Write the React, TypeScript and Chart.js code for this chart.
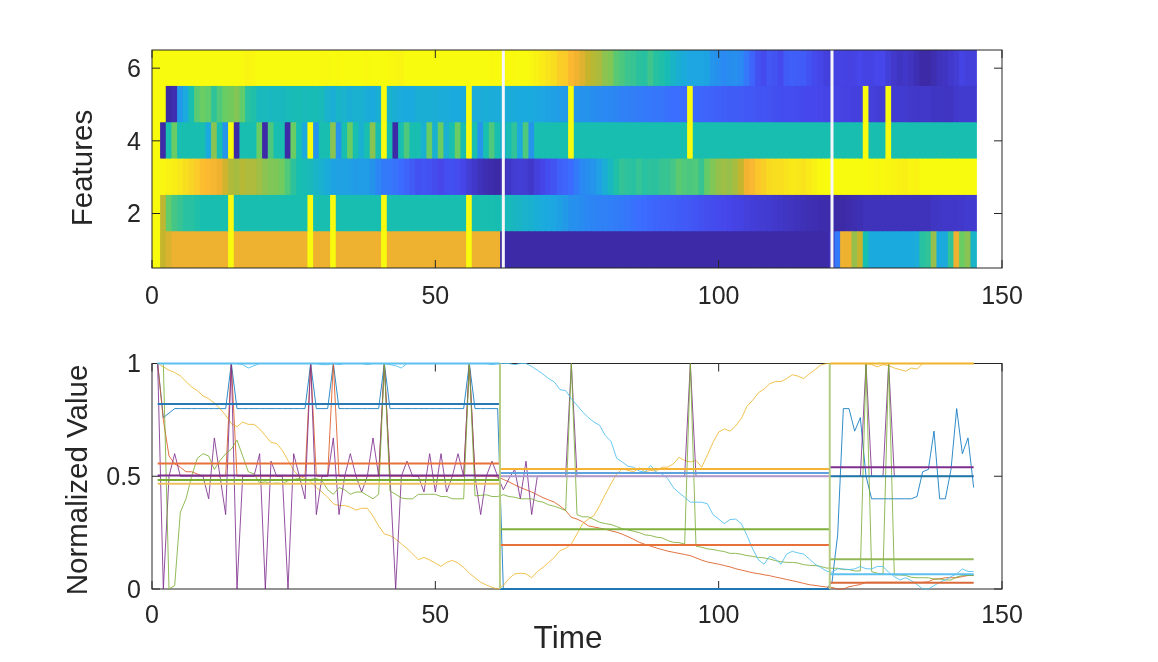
import { useEffect, useRef } from "react"
import { Chart, registerables } from "chart.js"

Chart.register(...registerables)

// one value per time step, t = 1..145
const blueSeries = [
  1, .76, .78, .8, .8, .8, .8, .8, .8, .8,
  .8, .8, .8, 1, .8, .8, .8, .8, .8, .8,
  .8, .8, .8, .8, .8, .8, .8, 1, .8, .8,
  .8, 1, .8, .8, .8, .8, .8, .8, .8, .8,
  1, .8, .8, .8, .8, .8, .8, .8, .8, .8,
  .8, .8, .8, .8, .8, 1, .8, .8, .8, .8,
  .8, 0, 0, 0, 0, 0, 0, 0, 0, 0,
  0, 0, 0, 0, 0, 0, 0, 0, 0, 0,
  0, 0, 0, 0, 0, 0, 0, 0, 0, 0,
  0, 0, 0, 0, 0, 0, 0, 0, 0, 0,
  0, 0, 0, 0, 0, 0, 0, 0, 0, 0,
  0, 0, 0, 0, 0, 0, 0, 0, 0, .03,
  .24, .8, .8, .7, .76, .5, .4, .4, .4, .4,
  .4, .4, .4, .4, .41, .52, .53, .7, .4, .4,
  .53, .8, .6, .67, .45,
]
const redSeries = [
  1, .75, .59, .555, .54, .52, .52, .51, .5, .5,
  .5, .5, .5, 1, .5, .5, .5, .5, .5, .5,
  .5, .5, .5, .5, .5, .5, .5, 1, .5, .5,
  .5, 1, .5, .5, .5, .5, .5, .5, .5, .5,
  1, .5, .5, .5, .5, .5, .5, .5, .5, .5,
  .5, .5, .5, .5, .5, 1, .5, .5, .5, .5,
  .497, .486, .475, .462, .45, .44, .43, .418, .405, .395,
  .385, .368, .348, .318, .31, .298, .28, .275, .27, .265,
  .258, .252, .243, .232, .22, .207, .198, .19, .182, .175,
  .168, .163, .158, .153, .148, .138, .128, .12, .115, .11,
  .104, .098, .09, .084, .078, .072, .068, .063, .059, .053,
  .048, .042, .037, .031, .025, .019, .016, .012, .009, .007,
  0, 0, .01, .015, .02, .03, .03, .03, .03, .03,
  .03, .03, .03, .03, .03, .03, .032, .044, .045, .05,
  .05, .05, .055, .06, .06,
]
const yellowSeries = [
  1, .985, .97, .96, .945, .92, .896, .88, .856, .844,
  .825, .8, .77, .733, .72, .74, .73, .73, .71, .68,
  .65, .645, .615, .57, .526, .5, .49, .477, .45, .43,
  .407, .378, .37, .37, .363, .35, .358, .358, .323, .28,
  .244, .237, .222, .2, .18, .155, .13, .14, .129, .115,
  .1, .118, .127, .115, .096, .07, .05, .03, .018, .007,
  0, .015, .047, .067, .07, .067, .05, .077, .096, .118,
  .14, .17, .18, .2, .244, .29, .31, .326, .37, .42,
  .467, .51, .533, .526, .52, .537, .52, .526, .523, .54,
  .54, .555, .584, .57, .563, .57, .54, .593, .65, .696,
  .71, .7, .723, .756, .81, .837, .87, .886, .91, .92,
  .92, .933, .95, .944, .933, .954, .973, .993, 1, 1,
  1, 1, 1, 1, 1, 1, .995, .985, .995, .99,
  .98, .973, .966, .98, .975, 1, 1, 1, 1, 1,
  1, 1, 1, 1, 1,
]
const purpleSeries = [
  1, 0, .5, .6, .5, .5, .5, .5, .5, .4,
  .67, .5, .33, 1, 0, .5, .5, .5, .6, 0,
  .567, .5, .5, 0, .6, .5, .4, 1, .33, .5,
  .5, .67, .33, .5, .6, .5, .43, .5, .67, .5,
  1, .5, 0, .5, .567, .5, .5, .43, .6, .43,
  .6, .43, .5, .6, .5, 1, .5, .33, .5, .567,
  .5, .44, .49, .53, .4, .567, .33, .5, .5, .5,
  .5, .5, .5, 1, .5, .5, .5, .5, .5, .5,
  .5, .5, .5, .5, .5, .5, .5, .5, .5, .5,
  .5, .5, .5, .5, 1, .5, .5, .5, .5, .5,
  .5, .5, .5, .5, .5, .5, .5, .5, .5, .5,
  .5, .5, .5, .5, .5, .5, .5, .5, .5, .5,
  .5, .5, .5, .5, .5, 1, .5, .5, .5, 1,
  .5, .5, .5, .5, .5, .5, .5, .5, .5, .5,
  .5, .5, .5, .5, .5,
]
const greenSeries = [
  1, 1, 0, .015, .34, .4, .5, .58, .6, .59,
  .53, .57, .6, .62, .66, .59, .52, .51, .47, .475,
  .467, .47, .467, .48, .486, .49, .48, .486, .49, .48,
  .44, .42, .45, .44, .42, .43, .43, .415, .4, .42,
  1, .434, .42, .404, .4, .4, .42, .42, .42, .42,
  .41, .41, .4, .4, .4, 1, .413, .415, .418, .41,
  .41, .418, .41, .407, .4, .4, .4, .39, .385, .373,
  .367, .358, .348, 1, .33, .32, .32, .308, .296, .29,
  .286, .277, .267, .262, .256, .25, .24, .237, .23, .227,
  .215, .207, .206, .199, 1, .19, .185, .178, .175, .17,
  .166, .158, .158, .154, .148, .145, .14, .138, .133, .126,
  .121, .118, .118, .115, .108, .105, .104, .1, .093, .092,
  .092, .086, .086, .08, .08, 1, .077, .07, .067, 1,
  .062, .062, .06, .052, .05, .05, .05, .044, .044, .04,
  .04, .053, .06, .06, .06,
]
const cyanSeries = [
  1, 1, 1, 1, 1, 1, 1, 1, 1, 1,
  1, 1, 1, 1, 1, .995, .98, .99, 1, 1,
  1, 1, 1, 1, 1, 1, 1, 1, 1, .995,
  .995, 1, .995, 1, 1, 1, 1, .995, 1, 1,
  1, .995, .99, .98, 1, 1, 1, 1, 1, 1,
  1, 1, 1, 1, 1, 1, 1, 1, 1, .995,
  1, 1, 1, .995, 1, 1, .987, .97, .953, .933,
  .918, .884, .88, .844, .815, .785, .76, .74, .726, .68,
  .655, .58, .563, .544, .54, .523, .518, .548, .518, .51,
  .49, .45, .427, .407, .385, .385, .385, .378, .33, .31,
  .29, .308, .31, .29, .237, .178, .13, .11, .145, .133,
  .11, .155, .167, .16, .155, .133, .11, .096, .08, .074,
  .09, .089, .086, .089, .1, .09, .089, .1, .1, .074,
  .055, .04, .05, .037, .02, 0, 0, .015, .03, .04,
  .055, .067, .089, .078, .077,
]

const allSeries = [blueSeries, redSeries, yellowSeries, purpleSeries, greenSeries, cyanSeries]
// thin lines look washed out in the reference, hence the alpha
const seriesColors = ["#0072BDD0", "#D95319D0", "#EDB120C8", "#7E2F8ED8", "#77AC30D0", "#4DBEEED8"]

// the flat level of each feature in the three segments, and where segments start/end
const segmentEdges = [1, 61.4, 119.6, 145]
const segmentLevels = [
  [.82, 0, .5],
  [.557, .195, .028],
  [.467, .532, 1],
  [.503, .5, .54],
  [.483, .265, .132],
  [1, .514, .065],
]
const segmentColors = [
  ["#2878B5", "#1F77B4", "#1F77AA"],
  ["#E8703A", "#E8703A", "#DB6A3A"],
  ["#EDC060", "#F5B335", "#F0B42E"],
  ["#7E2F8E", "#B09AC9", "#7E2F8E"],
  ["#77AC30", "#7FB03C", "#93B85A"],
  ["#5CC0F0", "#5FA2DD", "#5CC0F0"],
]
const changeTimes = [61.4, 119.6]
const heatCuts = [62, 120]

const timeTicks = [0, 50, 100, 150]
const featureTicks = [2, 4, 6]
const valueTicks = [0, 0.5, 1]

// colormap for the cells
const mapStops = [0, .1, .2, .3, .4, .5, .6, .7, .76, .8, .85, .9, 1]
const mapColors = [
  [60, 42, 166], [70, 70, 235], [60, 108, 255], [40, 140, 240], [27, 170, 222], [24, 190, 176],
  [105, 205, 100], [150, 192, 75], [198, 181, 44], [238, 177, 48], [253, 186, 49], [248, 215, 35], [249, 251, 14],
]

function cellColor(v: number) {
  let i = 0
  while (i < mapStops.length - 2 && v > mapStops[i + 1]) i++
  const f = (v - mapStops[i]) / (mapStops[i + 1] - mapStops[i])
  const c = mapColors[i].map((a, k) => Math.round(a + (mapColors[i + 1][k] - a) * f))
  return `rgb(${c[0]},${c[1]},${c[2]})`
}

const textColor = "#262626"
const fontFamily = "'Liberation Sans', Arial, sans-serif"
const tickFont = { family: fontFamily, size: 25 }

// matlab style box with the tick marks pointing inwards on all four sides
const drawBox = (chart: Chart) => {
  const { ctx, chartArea: a, scales } = chart
  ctx.save()
  ctx.strokeStyle = textColor
  ctx.lineWidth = 1
  ctx.strokeRect(a.left, a.top, a.right - a.left, a.bottom - a.top)
  ctx.beginPath()
  scales.x.ticks.forEach((t) => {
    const px = scales.x.getPixelForValue(t.value)
    ctx.moveTo(px, a.top)
    ctx.lineTo(px, a.top + 8)
    ctx.moveTo(px, a.bottom)
    ctx.lineTo(px, a.bottom - 8)
  })
  scales.y.ticks.forEach((t) => {
    const py = scales.y.getPixelForValue(t.value)
    ctx.moveTo(a.left, py)
    ctx.lineTo(a.left + 8, py)
    ctx.moveTo(a.right, py)
    ctx.lineTo(a.right - 8, py)
  })
  ctx.stroke()
  ctx.restore()
}

// the axis titles in the reference sit off the axis centre, so they are placed by hand
const drawTitle = (chart: Chart, text: string, x: number, y: number, size: number, rotated: boolean) => {
  const { ctx } = chart
  ctx.save()
  ctx.fillStyle = textColor
  ctx.font = `${size}px ${fontFamily}`
  ctx.textAlign = "center"
  ctx.textBaseline = "middle"
  ctx.translate(x, y)
  if (rotated) ctx.rotate(-Math.PI / 2)
  ctx.fillText(text, 0, 0)
  ctx.restore()
}

function axisOptions(
  min: number,
  max: number,
  tickList: number[],
  size: { width?: number; height?: number },
  padding: number,
  labelOffset = 0,
) {
  return {
    type: "linear",
    min,
    max,
    offset: false,
    grid: { display: false, drawTicks: false },
    border: { display: false },
    afterBuildTicks: (scale: any) => {
      scale.ticks = tickList.map((value) => ({ value }))
    },
    afterFit: (scale: any) => {
      if (size.width) scale.width = size.width
      if (size.height) scale.height = size.height
    },
    ticks: {
      color: textColor,
      font: tickFont,
      padding,
      labelOffset,
      maxRotation: 0,
      autoSkip: false,
      callback: (v: any) => String(v),
    },
  }
}

export default function App() {
  const heatRef = useRef<HTMLCanvasElement>(null)
  const lineRef = useRef<HTMLCanvasElement>(null)

  useEffect(() => {
    if (!heatRef.current || !lineRef.current) return

    // the image starts at the axis, so the first column is repeated at t = 0
    const heatRows: any[] = allSeries.map((series, r) => {
      const values = [series[0], ...series]
      return {
        type: "bar",
        grouped: false,
        barPercentage: 1,
        categoryPercentage: 1,
        borderWidth: 0,
        inflateAmount: 0.4,
        data: values.map((v, t) => ({ x: t, y: [r + 0.5, r + 1.5] })),
        backgroundColor: values.map(cellColor),
        order: 2,
      }
    })
    const cutLines: any[] = heatCuts.map((t) => ({
      type: "line",
      data: [{ x: t, y: 0.5 }, { x: t, y: 6.5 }],
      borderColor: "#f6f6fa",
      borderWidth: 3,
      pointRadius: 0,
      order: 1,
    }))

    const heatChart = new Chart(heatRef.current, {
      type: "bar",
      data: { datasets: [...heatRows, ...cutLines] },
      options: {
        animation: false,
        responsive: false,
        devicePixelRatio: 1,
        layout: { padding: { left: 66.5, right: 156, top: 50, bottom: 0 } },
        plugins: { legend: { display: false }, tooltip: { enabled: false } },
        scales: {
          x: axisOptions(0, 150, timeTicks, { height: 52 }, 14),
          y: axisOptions(0.5, 6.5, featureTicks, { width: 85.5 }, 11, 2),
        },
      } as any,
      plugins: [
        {
          id: "box",
          afterDatasetsDraw: drawBox,
          afterDraw: (chart: Chart) => drawTitle(chart, "Features", 84, 168, 29.5, true),
        },
      ],
    })

    const seriesLines: any[] = allSeries.map((series, i) => ({
      data: series.map((v, k) => ({ x: k + 1, y: v })),
      borderColor: seriesColors[i],
      borderWidth: 1,
      pointRadius: 0,
      clip: false,
      order: 20 - i,
    }))
    const levelLines: any[] = segmentLevels.flatMap((levels, i) =>
      levels.map((level, s) => ({
        data: [
          { x: segmentEdges[s], y: level },
          { x: segmentEdges[s + 1], y: level },
        ],
        borderColor: segmentColors[i][s],
        borderWidth: 2,
        pointRadius: 0,
        clip: false,
        order: 10 - i,
      })),
    )
    const changeLines: any[] = changeTimes.map((t) => ({
      data: [{ x: t, y: 0 }, { x: t, y: 1 }],
      borderColor: "#B6CC84",
      borderWidth: 2,
      pointRadius: 0,
      clip: false,
      order: 2,
    }))

    const lineChart = new Chart(lineRef.current, {
      type: "line",
      data: { datasets: [...seriesLines, ...levelLines, ...changeLines] },
      options: {
        animation: false,
        responsive: false,
        devicePixelRatio: 1,
        layout: { padding: { left: 61.5, right: 156, top: 43.5, bottom: 6 } },
        plugins: { legend: { display: false }, tooltip: { enabled: false } },
        scales: {
          x: axisOptions(0, 150, timeTicks, { height: 67 }, 12),
          y: axisOptions(0, 1, valueTicks, { width: 90.5 }, 11, 2),
        },
      } as any,
      plugins: [
        {
          id: "box",
          beforeDatasetsDraw: drawBox,
          afterDraw: (chart: Chart) => {
            drawTitle(chart, "Normalized Value", 79, 160, 29.5, true)
            drawTitle(chart, "Time", 568, 319.5, 31.5, false)
          },
        },
      ],
    })

    return () => {
      heatChart.destroy()
      lineChart.destroy()
    }
  }, [])

  return (
    <div style={{ position: "absolute", left: 0, top: 0, width: 1158, height: 662, background: "#fff" }}>
      <canvas ref={heatRef} width={1158} height={320} style={{ position: "absolute", left: 0, top: 0 }} />
      <canvas ref={lineRef} width={1158} height={342} style={{ position: "absolute", left: 0, top: 320 }} />
    </div>
  )
}
